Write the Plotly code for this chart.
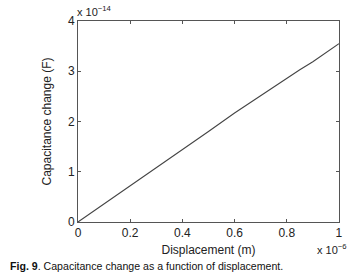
import plotly.graph_objects as go

displacement = [0, 0.1, 0.2, 0.26, 0.3, 0.4, 0.5, 0.6, 0.7, 0.8, 0.85, 0.9, 1.0]  # x 1e-6 m
capacitance = [0, 0.36, 0.71, 0.94, 1.07, 1.44, 1.80, 2.17, 2.52, 2.86, 3.03, 3.19, 3.55]  # x 1e-14 F
x_ticks = [0, 0.2, 0.4, 0.6, 0.8, 1]
x_tick_labels = ["0", "0.2", "0.4", "0.6", "0.8", "1"]
y_ticks = [0, 1, 2, 3, 4]
y_tick_labels = ["0", "1", "2", "3", "4"]

FONT = "Liberation Sans, Arial, Helvetica, sans-serif"
AX = "#555555"
TXT = "#222222"

fig = go.Figure()
fig.add_trace(go.Scatter(x=displacement, y=capacitance, mode="lines",
                         line=dict(color="#444444", width=1.1), showlegend=False, cliponaxis=False))

axis_common = dict(showgrid=False, zeroline=False, showline=True, linecolor=AX, linewidth=1,
                   mirror="ticks", ticks="inside", ticklen=3, tickcolor=AX,
                   tickfont=dict(family=FONT, size=12, color=TXT))
fig.update_xaxes(range=[0, 1.0002], tickvals=x_ticks, ticktext=x_tick_labels,
                 title=dict(text="Displacement (m)", font=dict(family=FONT, size=12, color=TXT), standoff=6),
                 **axis_common)
fig.update_yaxes(range=[0, 4.0004], tickvals=y_ticks, ticktext=y_tick_labels,
                 title=dict(text="Capacitance change (F)", font=dict(family=FONT, size=12, color=TXT), standoff=13),
                 **axis_common)

fig.add_annotation(x=0, y=1, xref="paper", yref="paper", xanchor="left", yanchor="bottom",
                   text="x 10<sup>−14</sup>", showarrow=False, yshift=1, xshift=-3,
                   font=dict(family=FONT, size=11, color=TXT))
fig.add_annotation(x=1, y=0, xref="paper", yref="paper", xanchor="right", yanchor="top",
                   text="x 10<sup>−6</sup>", showarrow=False, yshift=-18, xshift=10,
                   font=dict(family=FONT, size=11, color=TXT))
fig.add_annotation(x=(7 - 78) / 265, y=-(266 - 222) / 201, xref="paper", yref="paper",
                   xanchor="left", yanchor="middle", showarrow=False,
                   text="<b>Fig. 9</b>. Capacitance change as a function of displacement.",
                   font=dict(family=FONT, size=10.6, color="#111111"))

fig.update_layout(width=353, height=280, margin=dict(l=78, r=10, t=21, b=58),
                  paper_bgcolor="white", plot_bgcolor="white")
fig.write_html("out.html", config={"displayModeBar": False},
               post_script="document.body.style.margin='0';document.body.style.overflow='hidden';")
